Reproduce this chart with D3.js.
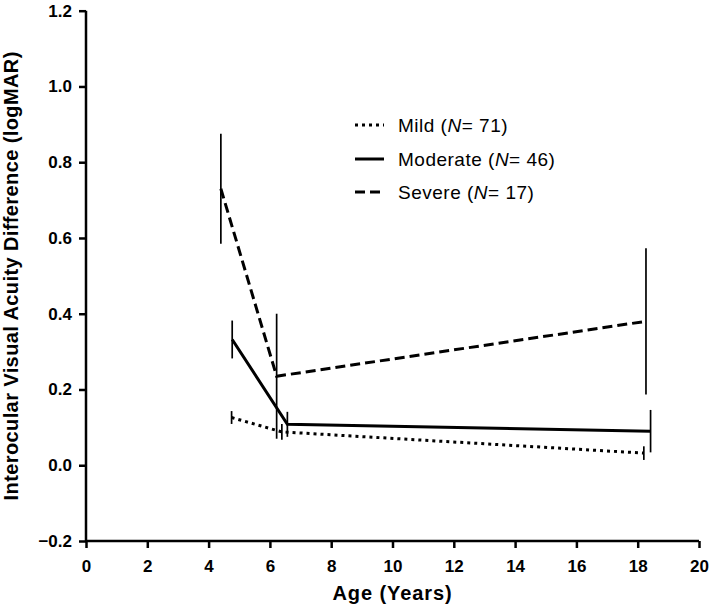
<!DOCTYPE html>
<html><head><meta charset="utf-8">
<script src="https://cdn.jsdelivr.net/npm/d3@7"></script>
<style>body{margin:0;background:#fff}svg{display:block}</style>
</head><body>
<script>
// ---- data ----
const seriesNames = ["Mild", "Moderate", "Severe"];
const seriesN = [71, 46, 17];
const mildX = [4.75, 6.39, 18.2];
const mildY = [0.126, 0.088, 0.032];
const mildErr = [0.017, 0.021, 0.018];
const moderateX = [4.77, 6.57, 18.42];
const moderateY = [0.332, 0.108, 0.09];
const moderateErr = [0.05, 0.033, 0.056];
const severeX = [4.40, 6.22, 18.27];
const severeY = [0.73, 0.235, 0.38];
const severeErr = [0.145, 0.165, 0.193];
const xTicks = [0, 2, 4, 6, 8, 10, 12, 14, 16, 18, 20];
const yTicks = [-0.2, 0, 0.2, 0.4, 0.6, 0.8, 1.0, 1.2];
const yTickLabels = ["\u22120.2", "0.0", "0.2", "0.4", "0.6", "0.8", "1.0", "1.2"];
const xTitle = "Age (Years)";
const yTitle = "Interocular Visual Acuity Difference (logMAR)";

const W = 709, H = 608;
const font = "'Liberation Sans', Arial, Helvetica, sans-serif";
const svg = d3.select("body").append("svg").attr("width", W).attr("height", H)
  .style("font-family", font);

const x = d3.scaleLinear().domain([0, 20]).range([86, 699]);
const y = d3.scaleLinear().domain([-0.2, 1.2]).range([541, 10.7]);

// axes
const xAxis = d3.axisBottom(x).tickValues(xTicks).tickSize(7).tickPadding(12).tickFormat(d3.format("d"));
const gx = svg.append("g").attr("transform", `translate(0,${y(-0.2)})`).call(xAxis);
const yAxis = d3.axisLeft(y).tickValues(yTicks).tickSize(7).tickPadding(7)
  .tickFormat((d, i) => yTickLabels[i]);
const gy = svg.append("g").attr("transform", `translate(${x(0)},0)`).call(yAxis);
[gx, gy].forEach(g => {
  g.select(".domain").attr("stroke", "#000").attr("stroke-width", 2.5);
  g.selectAll(".tick line").attr("stroke", "#000").attr("stroke-width", 2.5);
  g.selectAll(".tick text").attr("fill", "#000").style("font-size", "17px")
    .style("font-weight", "bold").style("font-family", font);
});
gx.select(".domain").attr("d", `M${x(0)},0H${x(20)}`);
gy.select(".domain").attr("d", `M0,${y(-0.2)}V${y(1.2)}`);

// titles
svg.append("text").attr("x", (x(0) + x(20)) / 2).attr("y", 600)
  .attr("text-anchor", "middle").style("font-size", "20px").style("font-weight", "bold")
  .style("letter-spacing", "0.9px").text(xTitle);
svg.append("text").attr("transform", `translate(18,${(y(-0.2) + y(1.2)) / 2}) rotate(-90)`)
  .attr("text-anchor", "middle").style("font-size", "20px").style("font-weight", "bold")
  .style("letter-spacing", "0.4px").text(yTitle);

const series = [
  { xs: mildX, ys: mildY, es: mildErr, dash: "3,4", w: 3 },
  { xs: moderateX, ys: moderateY, es: moderateErr, dash: null, w: 3 },
  { xs: severeX, ys: severeY, es: severeErr, dash: "10,5", w: 3 }
];

const line = d3.line().x(d => x(d[0])).y(d => y(d[1]));
series.forEach(s => {
  const pts = s.xs.map((v, i) => [v, s.ys[i], s.es[i]]);
  svg.append("g").selectAll("line").data(pts).join("line")
    .attr("x1", d => x(d[0])).attr("x2", d => x(d[0]))
    .attr("y1", d => y(d[1] + d[2])).attr("y2", d => y(d[1] - d[2]))
    .attr("stroke", "#000").attr("stroke-width", 1.7);
  svg.append("path").attr("d", line(pts)).attr("fill", "none")
    .attr("stroke", "#000").attr("stroke-width", s.w)
    .attr("stroke-dasharray", s.dash);
});

// legend
const legY = [125, 159, 192];
const leg = svg.append("g");
series.forEach((s, i) => {
  leg.append("line").attr("x1", 355).attr("x2", 384).attr("y1", legY[i]).attr("y2", legY[i])
    .attr("stroke", "#000").attr("stroke-width", s.w).attr("stroke-dasharray", s.dash);
  const t = leg.append("text").attr("x", 398).attr("y", legY[i] + 7).style("font-size", "19px")
    .style("letter-spacing", "0.5px");
  t.append("tspan").text(`${seriesNames[i]} (`);
  t.append("tspan").style("font-style", "italic").text("N");
  t.append("tspan").text(`= ${seriesN[i]})`);
});
</script>
</body></html>
